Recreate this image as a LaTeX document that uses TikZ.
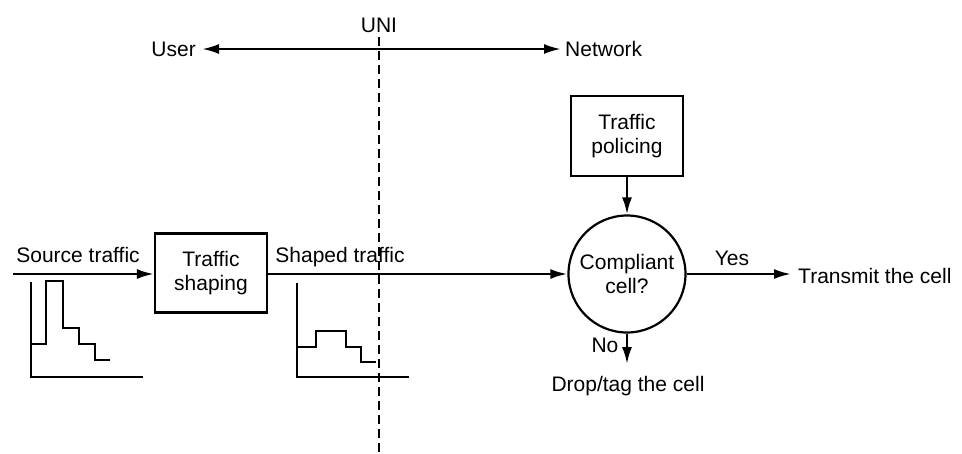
\documentclass[tikz,border=0pt]{standalone}
\usepackage{fontspec}
\setmainfont{Liberation Sans}
\usetikzlibrary{arrows.meta}
\begin{document}
\begin{tikzpicture}[x=1pt,y=-1pt,
  font=\fontsize{21}{24}\selectfont,
  tip/.tip={Latex[length=17pt,width=10pt]},
  flow/.style={line width=2.4pt,-tip},
  blk/.style={draw,line width=2.2pt,minimum width=112pt,minimum height=79pt,inner sep=0pt,align=center},
  dec/.style={draw,circle,line width=2.2pt,minimum size=117pt,inner sep=0pt,align=center},
  lbl/.style={inner sep=0pt,anchor=base},
  axis/.style={line width=1.2pt},
  stair/.style={line width=2.6pt,line join=miter}]
\useasboundingbox (0,0) rectangle (962,453);

% UNI boundary
\node[lbl] (uni) at (379,32) {UNI};
\coordinate (unitop) at (379,37);
\coordinate (unibot) at (379,453);
\draw[line width=2.2pt,dash pattern=on 9pt off 5pt] (unitop) -- (unibot);

% user / network side arrow
\node[lbl,anchor=base east] (user) at (196,56) {User};
\node[lbl,anchor=base west] (net) at (565,56) {Network};
\coordinate (ua) at (202,49);
\coordinate (na) at (561,49);
\draw[line width=2.4pt,tip-tip] (ua) -- (na);

% blocks
\node[blk] (shape) at (211,273) {Traffic\\shaping};
\node[blk,minimum height=80pt] (police) at (627,136) {Traffic\\policing};
\node[dec] (chk) at (627,274) {Compliant\\cell?};

% source side
\coordinate (src) at (13,274);
\node[lbl] (srclbl) at (78,262) {Source traffic};
\draw[flow] (src) -- (shape.west |- src);
\node[lbl] (shplbl) at (340,262) {Shaped traffic};
\draw[flow] (shape.east |- chk) -- (chk.west);
\draw[flow] (police.south) -- (chk.north);

% outcomes
\node[lbl,anchor=base west] (tx) at (798,283) {Transmit the cell};
\coordinate (txend) at (791,274);
\draw[flow] (chk.east) -- (txend);
\node[lbl] (yes) at (732,265) {Yes};
\coordinate (noend) at (627,364);
\draw[flow] (chk.south) -- (noend);
\node[lbl] (no) at (605,352) {No};
\node[lbl] (drop) at (628,391) {Drop/tag the cell};

% source traffic profile
\draw[axis] (31,282) -- (31,377) -- (143,377);
\draw[stair] (31,344) -- (46,344) -- (46,281) -- (63,281) -- (63,328) -- (79,328) -- (79,344) -- (95,344) -- (95,360) -- (110,360);

% shaped traffic profile
\draw[axis] (297,283) -- (297,377) -- (409,377);
\draw[stair] (297,347) -- (316,347) -- (316,331) -- (346,331) -- (346,347) -- (361,347) -- (361,362) -- (376,362);
\end{tikzpicture}
\end{document}
